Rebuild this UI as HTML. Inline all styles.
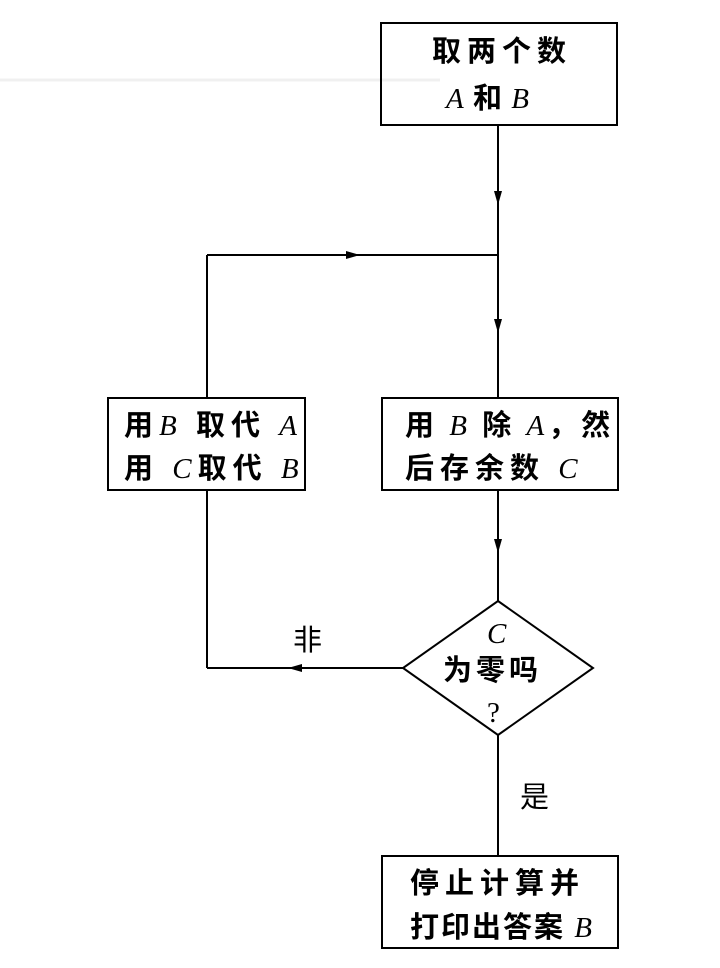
<!DOCTYPE html>
<html><head><meta charset="utf-8"><style>
body{margin:0;background:#fff;}
svg{display:block}
text{font-family:"Liberation Serif","Noto Sans CJK SC",serif;font-size:29px;font-weight:bold;fill:#000;letter-spacing:6px;}
.i{font-style:italic;font-weight:normal}
</style></head><body>
<svg width="720" height="968" viewBox="0 0 720 968">
<line x1="0" y1="80" x2="440" y2="80" stroke="#f0f0f0" stroke-width="3"/>
<g stroke="#000" stroke-width="2" fill="none">
<rect x="381" y="23" width="236" height="102"/>
<rect x="108" y="398" width="197" height="92"/>
<rect x="382" y="398" width="236" height="92"/>
<rect x="382" y="856" width="236" height="92"/>
<polygon points="498,601 593,668 498,735 403,668"/>
<line x1="498" y1="125" x2="498" y2="398"/>
<line x1="498" y1="255" x2="207" y2="255"/>
<line x1="207" y1="255" x2="207" y2="398"/>
<line x1="498" y1="490" x2="498" y2="601"/>
<line x1="403" y1="668" x2="207" y2="668"/>
<line x1="207" y1="668" x2="207" y2="490"/>
<line x1="498" y1="735" x2="498" y2="856"/>
</g>
<g fill="#000">
<polygon points="494,191 502,191 498,205"/>
<polygon points="494,319 502,319 498,333"/>
<polygon points="494,539 502,539 498,553"/>
<polygon points="346,251 346,259 360,255"/>
<polygon points="302,664 302,672 288,668"/>
</g>
<text x="432" y="61">取两个数</text>
<text x="446" y="108" style="letter-spacing:1px"><tspan class="i">A</tspan> 和 <tspan class="i">B</tspan></text>
<text x="124" y="435">用<tspan class="i">B</tspan> 取代 <tspan class="i">A</tspan></text>
<text x="124" y="478">用 <tspan class="i">C</tspan>取代 <tspan class="i">B</tspan></text>
<text x="405" y="435" style="letter-spacing:4px">用 <tspan class="i">B</tspan> 除 <tspan class="i">A</tspan>，然</text>
<text x="405" y="478">后存余数 <tspan class="i">C</tspan></text>
<text x="487" y="643" class="i">C</text>
<text x="443" y="680" style="letter-spacing:4px">为零吗</text>
<text x="487" y="722" style="font-weight:normal">?</text>
<text x="293" y="650" style="font-weight:normal">非</text>
<text x="520" y="807" style="font-weight:normal">是</text>
<text x="410" y="893">停止计算并</text>
<text x="410" y="937" style="letter-spacing:2px">打印出答案 <tspan class="i">B</tspan></text>
</svg>
</body></html>
